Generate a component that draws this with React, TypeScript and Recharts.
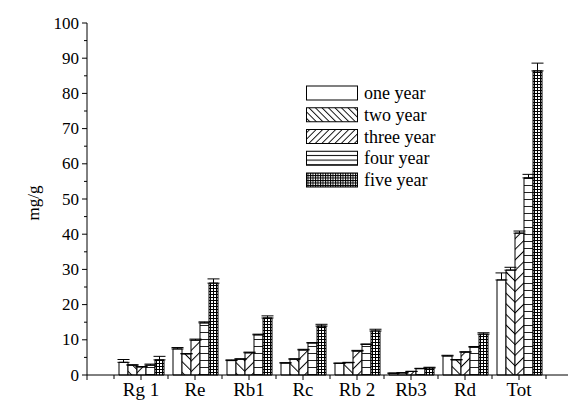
import React from 'react';
import { BarChart, Bar, XAxis, YAxis, ErrorBar, Legend } from 'recharts';

const categories = ['Rg 1', 'Re', 'Rb1', 'Rc', 'Rb 2', 'Rb3', 'Rd', 'Tot'];
const seriesNames = ['one year', 'two year', 'three year', 'four year', 'five year'];

const oneYear = [3.6, 7.4, 4.1, 3.4, 3.3, 0.5, 5.4, 27.0];
const twoYear = [2.8, 6.0, 4.5, 4.5, 3.5, 0.6, 4.3, 29.8];
const threeYear = [2.3, 9.9, 6.3, 7.1, 6.8, 1.0, 6.5, 40.3];
const fourYear = [2.8, 14.8, 11.4, 9.1, 8.7, 1.8, 7.9, 56.0];
const fiveYear = [4.3, 26.1, 16.2, 13.9, 12.5, 2.0, 11.6, 86.4];

const oneYearErr = [0.8, 0.4, 0.2, 0.1, 0.1, 0.05, 0.2, 2.0];
const twoYearErr = [0.1, 0.1, 0.1, 0.1, 0.1, 0.05, 0.1, 0.8];
const threeYearErr = [0.1, 0.3, 0.2, 0.2, 0.2, 0.05, 0.1, 0.6];
const fourYearErr = [0.3, 0.3, 0.2, 0.1, 0.1, 0.1, 0.2, 1.0];
const fiveYearErr = [1.0, 1.2, 0.6, 0.5, 0.5, 0.2, 0.4, 2.2];

const yTicks = [0, 5, 10, 15, 20, 25, 30, 35, 40, 45, 50, 55, 60, 65, 70, 75, 80, 85, 90, 95, 100];

const keys = ['one', 'two', 'three', 'four', 'five'];
const values = [oneYear, twoYear, threeYear, fourYear, fiveYear];
const errors = [oneYearErr, twoYearErr, threeYearErr, fourYearErr, fiveYearErr];
const fills = ['#fff', 'url(#pTwo)', 'url(#pThree)', 'url(#pFour)', 'url(#pFive)'];
const legendFills = ['#fff', 'url(#lTwo)', 'url(#lThree)', 'url(#lFour)', 'url(#lFive)'];

const data = categories.map((name, i) => {
  const row: any = { name };
  keys.forEach((k, s) => {
    row[k] = values[s][i];
    row[k + 'Err'] = [0, errors[s][i]];
  });
  return row;
});

const FONT = '"Liberation Serif", "Times New Roman", serif';
const CHART_W = 600;
const CHART_H = 403;
const Y_AXIS_W = 87;
const X_AXIS_H = 28;
const MARGIN = { top: 23, right: 27, bottom: 0, left: 0 };
const PLOT_W = CHART_W - MARGIN.left - MARGIN.right - Y_AXIS_W;
const BAND = PLOT_W / (categories.length + 1);

const YTick = (props: any) => {
  const { x, y, payload } = props;
  const major = payload.value % 10 === 0;
  return (
    <g>
      <line x1={x} x2={x - (major ? 5 : 3)} y1={y} y2={y} stroke="#000" strokeWidth={1} />
      {major && (
        <text x={x - 8} y={y} textAnchor="end" dominantBaseline="central" fontFamily={FONT} fontSize={17} fill="#000">
          {payload.value}
        </text>
      )}
    </g>
  );
};

const XTick = (props: any) => {
  const { x, y, payload, index, visibleTicksCount } = props;
  return (
    <g>
      <line x1={x} x2={x} y1={y} y2={y + 5} stroke="#000" />
      <line x1={x - BAND / 2} x2={x - BAND / 2} y1={y} y2={y + 4} stroke="#000" />
      {index === 0 && <line x1={x - BAND} x2={x - BAND} y1={y} y2={y + 5} stroke="#000" />}
      {index === visibleTicksCount - 1 && (
        <line x1={x + BAND / 2} x2={x + BAND / 2} y1={y} y2={y + 4} stroke="#000" />
      )}
      <text x={x} y={y + 21} textAnchor="middle" fontFamily={FONT} fontSize={19} fill="#000">
        {payload.value}
      </text>
    </g>
  );
};

const LegendContent = () => (
  <svg width={160} height={115}>
    {seriesNames.map((n, i) => {
      const cy = 13 + i * 21.75;
      return (
        <g key={n}>
          <rect x={6.5} y={cy - 7} width={51} height={14} fill={legendFills[i]} stroke="#000" strokeWidth={1} />
          <text x={64} y={cy} dominantBaseline="central" fontFamily={FONT} fontSize={18} fill="#000">
            {n}
          </text>
        </g>
      );
    })}
  </svg>
);

const YLabel = (props: any) => {
  const vb = props.viewBox || { x: 0, y: MARGIN.top, width: Y_AXIS_W, height: 352 };
  const cx = vb.x + 33;
  const cy = vb.y + vb.height / 2 + 4;
  return (
    <text x={cx} y={cy} transform={`rotate(-90 ${cx} ${cy})`} textAnchor="middle" dominantBaseline="central" fontFamily={FONT} fontSize={17} fill="#000">
      mg/g
    </text>
  );
};

export default function App() {
  return (
    <div style={{ position: 'fixed', left: 0, top: 0, width: 568, height: 403, overflow: 'hidden', background: '#fff' }}>
      <svg width={0} height={0} style={{ position: 'absolute' }}>
        <defs>
          <pattern id="pTwo" patternUnits="userSpaceOnUse" width={7.5} height={7.5} patternTransform="rotate(-45)">
            <rect width={7.5} height={7.5} fill="#fff" />
            <line x1={0.5} y1={0} x2={0.5} y2={7.5} stroke="#000" strokeWidth={1} />
          </pattern>
          <pattern id="pThree" patternUnits="userSpaceOnUse" width={7.5} height={7.5} patternTransform="rotate(45)">
            <rect width={7.5} height={7.5} fill="#fff" />
            <line x1={0.5} y1={0} x2={0.5} y2={7.5} stroke="#000" strokeWidth={1} />
          </pattern>
          <pattern id="pFour" patternUnits="userSpaceOnUse" width={10} height={7}>
            <rect width={10} height={7} fill="#fff" />
            <line x1={0} y1={3.5} x2={10} y2={3.5} stroke="#222" strokeWidth={1} />
          </pattern>
          <pattern id="pFive" patternUnits="userSpaceOnUse" width={3} height={3}>
            <rect width={3} height={3} fill="#fff" />
            <line x1={0.5} y1={0} x2={0.5} y2={3} stroke="#000" strokeWidth={1} />
            <line x1={0} y1={0.5} x2={3} y2={0.5} stroke="#000" strokeWidth={1} />
          </pattern>
          <pattern id="lTwo" patternUnits="userSpaceOnUse" width={4.6} height={4.6} patternTransform="rotate(-45)">
            <rect width={4.6} height={4.6} fill="#fff" />
            <line x1={0.5} y1={0} x2={0.5} y2={4.6} stroke="#000" strokeWidth={0.9} />
          </pattern>
          <pattern id="lThree" patternUnits="userSpaceOnUse" width={4.6} height={4.6} patternTransform="rotate(45)">
            <rect width={4.6} height={4.6} fill="#fff" />
            <line x1={0.5} y1={0} x2={0.5} y2={4.6} stroke="#000" strokeWidth={0.9} />
          </pattern>
          <pattern id="lFour" patternUnits="userSpaceOnUse" width={10} height={4.67} y={0.2}>
            <rect width={10} height={4.67} fill="#fff" />
            <line x1={0} y1={0.5} x2={10} y2={0.5} stroke="#000" strokeWidth={1} />
          </pattern>
          <pattern id="lFive" patternUnits="userSpaceOnUse" width={2.5} height={2.5}>
            <rect width={2.5} height={2.5} fill="#fff" />
            <line x1={0.5} y1={0} x2={0.5} y2={2.5} stroke="#000" strokeWidth={1} />
            <line x1={0} y1={0.5} x2={2.5} y2={0.5} stroke="#000" strokeWidth={1} />
          </pattern>
        </defs>
      </svg>
      <BarChart width={CHART_W} height={CHART_H} data={data} margin={MARGIN} barGap={0}>
        <XAxis
          dataKey="name"
          height={X_AXIS_H}
          padding={{ left: BAND / 2, right: BAND / 2 }}
          tickLine={false}
          tickSize={0}
          tickMargin={0}
          interval={0}
          axisLine={{ stroke: '#000' }}
          tick={XTick}
        />
        <YAxis
          width={Y_AXIS_W}
          domain={[0, 100]}
          ticks={yTicks}
          interval={0}
          tickLine={false}
          tickSize={0}
          tickMargin={0}
          axisLine={{ stroke: '#000' }}
          tick={YTick}
          label={YLabel}
        />
        <Legend
          layout="vertical"
          align="center"
          verticalAlign="middle"
          content={LegendContent}
          wrapperStyle={{ left: 300, top: 80, width: 160, height: 115 }}
        />
        {keys.map((k, s) => (
          <Bar key={k} dataKey={k} name={seriesNames[s]} barSize={9} fill={fills[s]} stroke="#000" strokeWidth={1} isAnimationActive={false}>
            <ErrorBar dataKey={k + 'Err'} width={6} stroke="#000" strokeWidth={1} direction="y" isAnimationActive={false} />
          </Bar>
        ))}
      </BarChart>
    </div>
  );
}
